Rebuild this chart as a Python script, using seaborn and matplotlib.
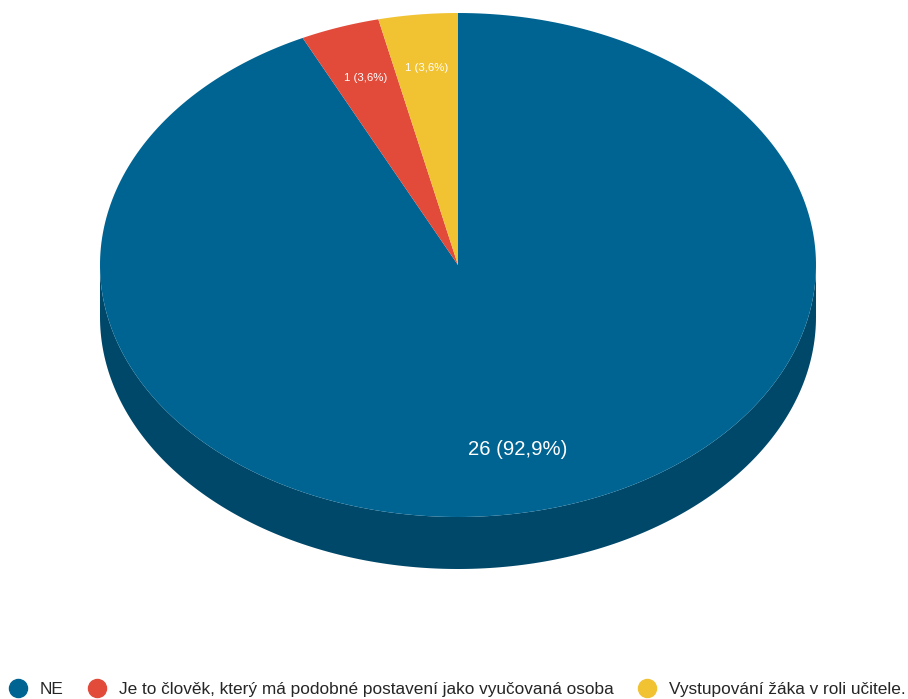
import numpy as np
import seaborn as sns
import matplotlib.pyplot as plt
from matplotlib.patches import Polygon
from matplotlib.lines import Line2D

sns.set_style('white')
plt.rcParams['font.family'] = ['Liberation Sans', 'DejaVu Sans']

labels = ['NE', 'Je to člověk, který má podobné postavení jako vyučovaná osoba',
          'Vystupování žáka v roli učitele.']
counts = [26, 1, 1]
colors = ['#006493', '#e24b3a', '#f1c232']
side_colors = ['#00486a', '#a8372a', '#b8921f']

# geometry of the tilted pie (pixel space)
cx, cy, rx, ry, depth = 458, 265, 358, 252, 52


def pt(t, f=1.0, dy=0.0):
    return cx + rx * f * np.sin(t), cy - ry * f * np.cos(t) + dy


fig = plt.figure(figsize=(9.08, 6.99), dpi=100)
ax = fig.add_axes([0, 0, 1, 1])
ax.set_xlim(0, 908)
ax.set_ylim(699, 0)
ax.axis('off')

total = sum(counts)
bounds = np.concatenate([[0], np.cumsum(counts)]) / total * 2 * np.pi

# side walls (only the front half is visible)
for i in range(len(counts)):
    a0, a1 = max(bounds[i], np.pi / 2), min(bounds[i + 1], 3 * np.pi / 2)
    if a1 <= a0:
        continue
    t = np.linspace(a0, a1, 200)
    xs, ys = pt(t)
    top = np.column_stack([xs, ys])
    bot = np.column_stack([xs, ys + depth])[::-1]
    ax.add_patch(Polygon(np.vstack([top, bot]), closed=True,
                         facecolor=side_colors[i], edgecolor='none'))

# top face
for i in range(len(counts)):
    t = np.linspace(bounds[i], bounds[i + 1], 300)
    xs, ys = pt(t)
    verts = np.vstack([[cx, cy], np.column_stack([xs, ys])])
    ax.add_patch(Polygon(verts, closed=True, facecolor=colors[i],
                         edgecolor='none'))

# value labels
for i, c in enumerate(counts):
    mid = (bounds[i] + bounds[i + 1]) / 2
    pct = f'{100 * c / total:.1f}'.replace('.', ',')
    big = c / total > 0.5
    x, y = pt(mid, 0.75 if big else 0.785)
    ax.text(x, y, f'{c} ({pct}%)', color='white', ha='center', va='center',
            fontsize=14.6 if big else 8.2)

handles = [Line2D([], [], marker='o', linestyle='none', markersize=13,
                  markerfacecolor=col, markeredgecolor=col) for col in colors]
fig.legend(handles, labels, loc='lower left', bbox_to_anchor=(-0.003, -0.014),
           ncol=3, frameon=False, fontsize=12.4, handletextpad=0.78,
           columnspacing=1.42, handlelength=1.0, borderaxespad=0.3)

fig.savefig('out.png', dpi=100)
